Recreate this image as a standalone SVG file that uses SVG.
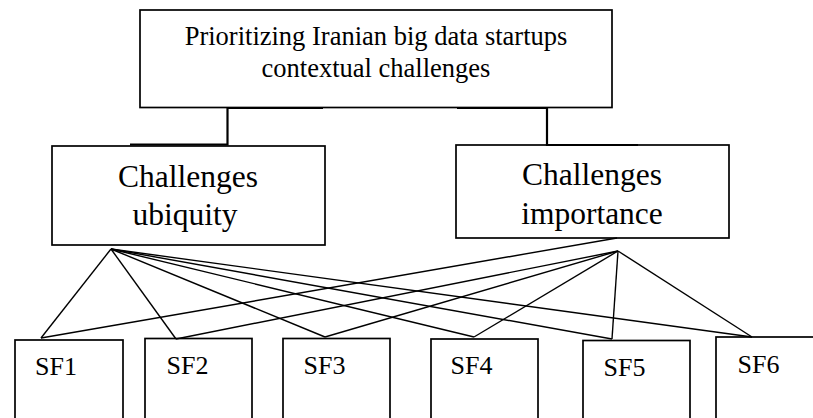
<svg xmlns="http://www.w3.org/2000/svg" width="813" height="418" viewBox="0 0 813 418">
  <style>
    .box { fill: #ffffff; stroke: #000000; stroke-width: 1.7; }
    .conn { fill: none; stroke: #000000; stroke-width: 1.4; }
    .elbow { fill: none; stroke: #000000; stroke-width: 2.2; }
    text { font-family: 'Liberation Serif', 'DejaVu Serif', 'Times New Roman', Times, serif; fill: #000000; }
    .big { font-size: 31.5px; text-anchor: middle; }
    .top { font-size: 26.5px; text-anchor: middle; }
    .sf { font-size: 26px; }
  </style>
  <rect x="0" y="0" width="813" height="418" fill="#ffffff"/>

  <g id="top">
    <rect class="box" x="140" y="10" width="472" height="97.5"/>
    <text class="top" x="376" y="45" font-family="Liberation Serif, serif">Prioritizing Iranian big data startups</text>
    <text class="top" x="376" y="77" font-family="Liberation Serif, serif">contextual challenges</text>
  </g>

  <g id="ubiquity">
    <rect class="box" x="52" y="146" width="273" height="99"/>
    <text class="big" x="188" y="186.5" font-family="Liberation Serif, serif">Challenges</text>
    <text class="big" x="185" y="224.5" font-family="Liberation Serif, serif">ubiquity</text>
  </g>

  <g id="importance">
    <rect class="box" x="456" y="145" width="273" height="93"/>
    <text class="big" x="592" y="185" font-family="Liberation Serif, serif">Challenges</text>
    <text class="big" x="592" y="223.5" font-family="Liberation Serif, serif">importance</text>
  </g>

  <g id="sf1">
    <rect class="box" x="15" y="340" width="108" height="90"/>
    <text class="sf" x="35" y="375" font-family="Liberation Serif, serif">SF1</text>
  </g>
  <g id="sf2">
    <rect class="box" x="145" y="338.5" width="107" height="92"/>
    <text class="sf" x="166.5" y="374" font-family="Liberation Serif, serif">SF2</text>
  </g>
  <g id="sf3">
    <rect class="box" x="283" y="338.5" width="107" height="92"/>
    <text class="sf" x="303.5" y="374" font-family="Liberation Serif, serif">SF3</text>
  </g>
  <g id="sf4">
    <rect class="box" x="431" y="339" width="107" height="92"/>
    <text class="sf" x="450.5" y="374" font-family="Liberation Serif, serif">SF4</text>
  </g>
  <g id="sf5">
    <rect class="box" x="583" y="340.5" width="107" height="90"/>
    <text class="sf" x="603.5" y="376" font-family="Liberation Serif, serif">SF5</text>
  </g>
  <g id="sf6">
    <rect class="box" x="716" y="337" width="110" height="94"/>
    <text class="sf" x="737.5" y="372.5" font-family="Liberation Serif, serif">SF6</text>
  </g>

  <g id="connectors">
    <polyline class="elbow" points="323,108 227.5,108 227.5,144.5 130,144.5"/>
    <polyline class="elbow" points="457,108 547,108 547,145 638,145"/>

    <line class="conn" x1="111" y1="249" x2="41" y2="338"/>
    <line class="conn" x1="111" y1="249" x2="176" y2="339"/>
    <line class="conn" x1="111" y1="249" x2="325" y2="337"/>
    <line class="conn" x1="111" y1="249" x2="474" y2="337"/>
    <line class="conn" x1="111" y1="249" x2="612" y2="339"/>
    <line class="conn" x1="111" y1="249" x2="752" y2="337"/>

    <line class="conn" x1="617" y1="238" x2="41" y2="338"/>
    <line class="conn" x1="618" y1="251" x2="176" y2="339"/>
    <line class="conn" x1="618" y1="251" x2="325" y2="337"/>
    <line class="conn" x1="618" y1="251" x2="474" y2="337"/>
    <line class="conn" x1="618" y1="251" x2="612" y2="339"/>
    <line class="conn" x1="618" y1="251" x2="752" y2="337"/>
  </g>
</svg>
